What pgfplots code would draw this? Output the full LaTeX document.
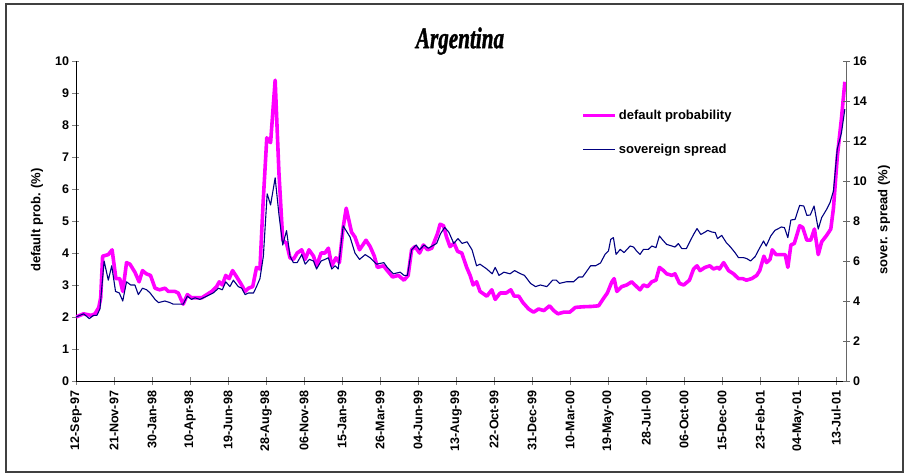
\documentclass[border=0pt]{standalone}
\usepackage{fontspec}
\setmainfont{Liberation Sans}
\newfontfamily\titlefont[BoldItalicFeatures={FakeBold=1.6}]{Liberation Serif}
\usepackage{pgfplots}
\usepackage{pgfplotstable}
\pgfplotsset{compat=1.18}
\definecolor{dpcol}{RGB}{255,0,255}
\definecolor{sscol}{RGB}{0,0,128}

\pgfplotstableread{
w v
0 2.0
2 2.1
4 2.05
5 2.1
6 2.3
6.5 2.6
7 3.9
8.5 3.95
9.5 4.1
10.5 3.2
11.5 3.2
12.3 2.8
13.3 3.7
14.2 3.65
15.5 3.4
16.6 3.1
17.5 3.45
18.5 3.35
19.6 3.3
20.8 2.9
22 2.85
23.4 2.9
24.3 2.8
26 2.8
26.9 2.75
28.2 2.4
29.3 2.7
30.4 2.6
31.8 2.6
33.1 2.6
34.4 2.7
35.7 2.8
37 2.95
37.7 3.1
38.5 3.0
39.4 3.3
40.3 3.2
41.2 3.45
42.3 3.25
43.6 3.0
44.5 2.8
45.4 2.9
46.5 2.95
47.5 3.55
48.4 3.5
49.2 5.5
50.2 7.6
51.2 7.45
52.4 9.4
53.4 6.5
54.4 4.4
55.4 4.3
56.3 3.85
57.2 3.8
58.2 4.0
59.4 4.1
60.3 3.8
61.3 4.1
62.5 3.9
63.3 3.6
64.5 4.0
65.5 4.0
66.4 4.15
67.3 3.6
68.4 3.85
69.3 3.7
70.3 4.8
71.1 5.4
72.5 4.65
73.4 4.5
74.6 4.1
76.3 4.4
77.4 4.2
78.5 3.9
79.3 3.55
80.9 3.6
81.9 3.45
83.3 3.25
84.8 3.3
86.3 3.15
87.4 3.3
88.3 4.1
89.2 4.2
90.4 4.0
91.4 4.25
92.5 4.1
93.6 4.15
95.1 4.6
95.8 4.9
96.7 4.85
97.5 4.5
98.4 4.2
99.5 4.3
100.4 4.05
101.5 4.0
102.8 3.55
103.7 3.3
104.5 3.0
105.4 3.1
106.3 2.8
108.1 2.65
109.4 2.85
110.3 2.55
111.6 2.75
113.2 2.75
114.4 2.85
115.3 2.65
116.5 2.65
117.6 2.45
119.1 2.25
120.4 2.15
121.7 2.25
123.1 2.2
124.6 2.35
125.7 2.2
126.8 2.1
128.3 2.15
129.9 2.15
131.4 2.3
133.5 2.32
135.7 2.33
137.5 2.35
138.9 2.6
139.8 2.75
141 3.1
141.6 3.2
142.3 2.8
143.6 2.95
144.9 3.0
146.2 3.1
147.5 2.95
148.4 2.85
149.3 3.0
150.4 2.95
151.5 3.1
152.6 3.15
153.5 3.55
154.6 3.45
155.4 3.35
156.8 3.3
157.6 3.35
158.8 3.05
159.9 3.0
161.4 3.15
162.5 3.5
163.4 3.6
164.2 3.45
165.5 3.55
166.8 3.6
167.7 3.5
168.8 3.55
169.3 3.5
170.4 3.7
171.7 3.45
173 3.35
174.3 3.2
175.4 3.2
176.4 3.15
177.8 3.2
179.1 3.3
179.9 3.45
181 3.9
181.7 3.7
182.6 3.8
183.2 4.1
184.2 3.95
185.7 3.95
186.6 3.95
187.3 3.55
188.1 4.25
189 4.3
190.4 4.85
191.2 4.8
192.3 4.4
193.3 4.4
194.3 4.75
195.3 3.95
196.2 4.35
197.5 4.55
198.6 4.75
199.3 5.4
200.3 7.0
201.4 8.2
202.3 9.35
}\dptable

\pgfplotstableread{
w v
0 3.2
2 3.36
3.5 3.12
4.6 3.28
5.5 3.28
6.3 3.6
7.4 6.0
8.5 5.04
9.4 5.76
10.4 4.48
11.4 4.4
12.3 4.0
13.3 4.96
14.4 4.8
15.5 4.8
16.4 4.32
17.5 4.64
18.6 4.56
19.5 4.4
20.8 4.08
21.7 3.92
23.4 4.0
24.7 3.92
25.6 3.84
27.4 3.84
28.2 3.84
29.3 4.24
30.4 4.08
31.3 4.16
32.6 4.08
34.4 4.24
36.1 4.4
37.5 4.64
38.5 4.56
39.4 4.96
40.5 4.72
41.4 5.04
42.7 4.72
43.6 4.64
44.5 4.32
45.4 4.4
46.7 4.4
47.5 4.72
48.4 5.12
49.3 6.24
50.3 9.36
51.2 8.8
52.4 10.16
53.4 8.32
54.4 6.8
55.4 7.52
56.3 6.24
57.2 5.92
58.2 5.92
59.4 6.32
60.3 5.84
61.4 6.08
62.5 6.0
63.3 5.6
64.5 6.0
65.5 6.08
66.4 6.16
67.3 5.6
68.2 5.76
69 5.6
70.3 7.76
72.1 7.2
73.4 6.4
74.6 6.08
76.1 6.32
77.4 6.16
79.1 5.84
81 5.92
81.9 5.68
83.5 5.36
85.3 5.44
86.3 5.28
87.2 5.28
88.3 6.56
89.5 6.8
90.4 6.56
91.6 6.8
92.7 6.64
94.9 6.88
95.9 7.36
97 7.68
98.1 7.44
99.4 6.88
100.5 7.12
101.6 6.88
102.9 6.96
104.2 6.56
105.4 5.76
106.3 5.84
108.1 5.6
109.5 5.36
110.3 5.68
111.3 5.28
112.6 5.44
114.2 5.36
115.4 5.52
117 5.36
118 5.28
119.6 4.88
120.9 4.72
122.2 4.8
123.9 4.72
125.4 5.04
126.4 5.04
127.2 4.88
129 4.96
130.9 4.96
132.3 5.2
133.3 5.2
135.4 5.76
136.7 5.76
138 5.9
139.2 6.33
140.1 6.5
140.7 7.08
141.4 7.17
142.1 6.33
143.2 6.58
144.2 6.42
145.8 6.75
146.7 6.7
147.5 6.5
148.4 6.33
149.3 6.58
150.6 6.58
151.5 6.75
152.6 6.67
153.5 7.25
154.6 7.0
155.4 6.83
156.8 6.75
157.6 6.7
158.5 6.87
159.4 6.62
160.6 6.62
161.6 7.0
162.5 7.33
163.4 7.62
164.4 7.33
165.3 7.42
166.2 7.53
167.3 7.45
168.2 7.42
168.8 7.12
169.9 7.28
171.1 6.92
172.2 6.7
173.4 6.42
174.3 6.17
175.6 6.17
176.5 6.12
177.5 6.0
178.7 6.22
179.8 6.62
180.9 7.0
181.6 6.75
182.8 7.25
183.9 7.53
185.6 7.7
186.4 7.67
187.3 7.17
188.1 8.05
189.2 8.08
190.4 8.78
191.5 8.75
192.3 8.28
193.2 8.3
194.2 8.75
195.3 7.6
196.2 8.17
197.5 8.58
198.4 8.92
199.3 9.5
200.3 11.6
201.4 12.4
202.3 13.6
}\sstable

\begin{document}
\begin{tikzpicture}
\pgfplotsset{
  common/.style={
    scale only axis, width=770pt, height=320pt,
    xmin=0, xmax=202.6,
    tick align=center, major tick length=7pt,
    /pgf/number format/assume math mode=true,
    ticklabel style={font=\fontsize{12.5}{14}\selectfont\bfseries},
    label style={font=\fontsize{13}{15}\selectfont\bfseries},
  }
}
\begin{axis}[common,
  axis y line*=left, axis x line*=bottom,
  ymin=0, ymax=10, ytick={0,1,...,10},
  xtick={0,10,...,200},
  xticklabels={12-Sep-97,21-Nov-97,30-Jan-98,10-Apr-98,19-Jun-98,28-Aug-98,06-Nov-98,15-Jan-99,26-Mar-99,04-Jun-99,13-Aug-99,22-Oct-99,31-Dec-99,10-Mar-00,19-May-00,28-Jul-00,06-Oct-00,15-Dec-00,23-Feb-01,04-May-01,13-Jul-01},
  xticklabel style={rotate=90, anchor=east, xshift=-3pt},
  ylabel={default prob. (\%)},
  ylabel style={at={(axis description cs:-0.0506,0.503)}, anchor=center, rotate=0},
  x axis line style={-}, y axis line style={-},
]
\addplot[dpcol, line width=3.6pt, line join=round] table[x=w,y=v] {\dptable};
\end{axis}
\begin{axis}[common,
  axis y line*=right, axis x line=none,
  ymin=0, ymax=16, ytick={0,2,...,16},
  y axis line style={-, gray!80!black}, ytick style={gray!80!black},
  ylabel={sover. spread (\%)},
  ylabel style={at={(axis description cs:1.0494,0.503)}, anchor=center, rotate=0},
  legend style={at={(rel axis cs:0.652,0.86)}, anchor=north west, draw=none, fill=none,
    font=\fontsize{13}{15}\selectfont\bfseries, row sep=19pt,
    /tikz/every even column/.append style={column sep=6pt}},
  legend cell align=left,
  legend image code/.code={\draw[#1] (0pt,0pt) -- (32pt,0pt);},
]
\addlegendimage{dpcol, line width=3.6pt}
\addlegendentry{default probability}
\addplot[sscol, line width=1.1pt, line join=round] table[x=w,y=v] {\sstable};
\addlegendentry{sovereign spread}
\end{axis}
\node[font=\titlefont\fontsize{23}{25}\selectfont\bfseries\itshape, xscale=0.92, yscale=1.3] at (384pt,340pt) {Argentina};
\draw[black!75, line width=1.2pt] (-70pt,-91pt) rectangle (827pt,377pt);
\pgfresetboundingbox
\path (-76pt,-93pt) rectangle (830pt,381pt);
\end{tikzpicture}
\end{document}
